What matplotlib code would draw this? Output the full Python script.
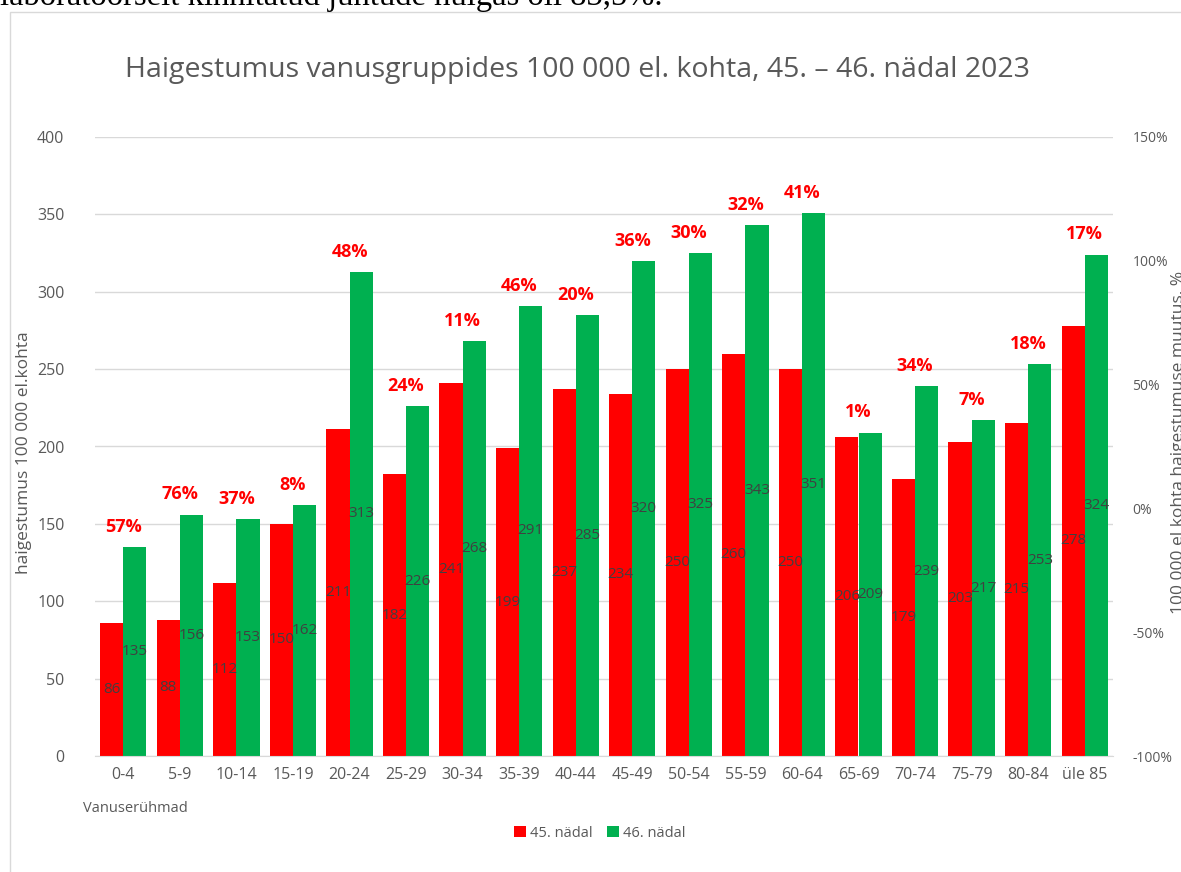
import numpy as np
import matplotlib
matplotlib.use("Agg")
import matplotlib.pyplot as plt
from matplotlib.patches import Rectangle

# age groups and incidence per 100 000
groups = ["0-4", "5-9", "10-14", "15-19", "20-24", "25-29", "30-34", "35-39", "40-44",
          "45-49", "50-54", "55-59", "60-64", "65-69", "70-74", "75-79", "80-84", "üle 85"]
week45 = [86, 88, 112, 150, 211, 182, 241, 199, 237, 234, 250, 260, 250, 206, 179, 203, 215, 278]
week46 = [135, 156, 153, 162, 313, 226, 268, 291, 285, 320, 325, 343, 351, 209, 239, 217, 253, 324]
change = [57, 76, 37, 8, 48, 24, 11, 46, 20, 36, 30, 32, 41, 1, 34, 7, 18, 17]

RED = "#FF0000"
GREEN = "#00B050"
GREY = "#595959"
LABEL = "#404040"

plt.rcParams['font.family'] = ['Open Sans', 'DejaVu Sans']

fig = plt.figure(figsize=(11.81, 8.72), dpi=100)

# text above the chart, cut off by the image edge
fig.text(0.0, 1 - 5 / 872, "laboratoorselt kinnitatud juhtude hulgas oli 83,5%.",
         family="Liberation Serif", fontsize=23.5, color="black", va="baseline", ha="left")

# chart frame
fig.patches.append(Rectangle((10 / 1181, -0.1), 1.2, 1 - 12 / 872 + 0.1, transform=fig.transFigure,
                             fill=False, edgecolor="#d9d9d9", linewidth=1.0))

ax = fig.add_axes([95 / 1181, 1 - 756 / 872, 1018 / 1181, (756 - 137) / 872])
x = np.arange(len(groups))
w = 0.41
ax.bar(x - w / 2, week45, w, color=RED, label="45. nädal", zorder=2)
ax.bar(x + w / 2, week46, w, color=GREEN, label="46. nädal", zorder=2)

for i in range(len(groups)):
    ax.text(x[i] - w / 2, week45[i] / 2, str(week45[i]), ha="center", va="center",
            fontsize=11, color=LABEL, zorder=3)
    ax.text(x[i] + w / 2, week46[i] / 2, str(week46[i]), ha="center", va="center",
            fontsize=11, color=LABEL, zorder=3)
    top = max(week45[i], week46[i])
    ax.text(x[i], top + 13, f"{change[i]}%", ha="center", va="center",
            fontsize=13, fontweight="bold", color=RED, zorder=3)

ax.set_xlim(-0.5, len(groups) - 0.5)
ax.set_ylim(0, 400)
ax.set_yticks(range(0, 401, 50))
ax.set_xticks(x)
ax.set_xticklabels(groups)
ax.grid(axis="y", color="#d9d9d9", linewidth=1, zorder=0)
for s in ["top", "right", "left"]:
    ax.spines[s].set_visible(False)
ax.spines["bottom"].set_color("#d9d9d9")
ax.tick_params(axis="both", length=0, colors=GREY, labelsize=11.5)
ax.tick_params(axis="y", pad=22)
ax.tick_params(axis="x", pad=8)
ax.set_ylabel("haigestumus 100 000 el.kohta", color=GREY, fontsize=12.5, labelpad=2)
ax.yaxis.set_label_coords(-0.062, 0.49)

ax2 = ax.twinx()
ax2.set_ylim(-100, 150)
ax2.set_yticks(range(-100, 151, 50))
ax2.set_yticklabels([f"{v}%" for v in range(-100, 151, 50)])
for s in ax2.spines.values():
    s.set_visible(False)
ax2.tick_params(axis="y", length=0, colors=GREY, labelsize=10, pad=14)
fig.text(1171 / 1181, 1 - 442 / 872, "100 000 el kohta haigestumuse muutus, %",
         rotation=90, ha="left", va="center", fontsize=12.5, color=GREY)

fig.text(0.5 * (128 + 1027) / 1181, 1 - 70 / 872,
         "Haigestumus vanusgruppides 100 000 el. kohta, 45. – 46. nädal 2023",
         ha="center", va="center", fontsize=20.5, color=GREY)
fig.text(83 / 1181, 1 - 808 / 872, "Vanuserühmad", ha="left", va="center", fontsize=10.5, color=GREY)

ax.legend(loc="center", bbox_to_anchor=(600 / 1181, 1 - 833 / 872), bbox_transform=fig.transFigure,
          ncol=2, frameon=False, fontsize=10.5, labelcolor=GREY, handlelength=0.8, handleheight=0.8,
          handletextpad=0.3, columnspacing=1.0)

fig.savefig("out.png", dpi=100)
